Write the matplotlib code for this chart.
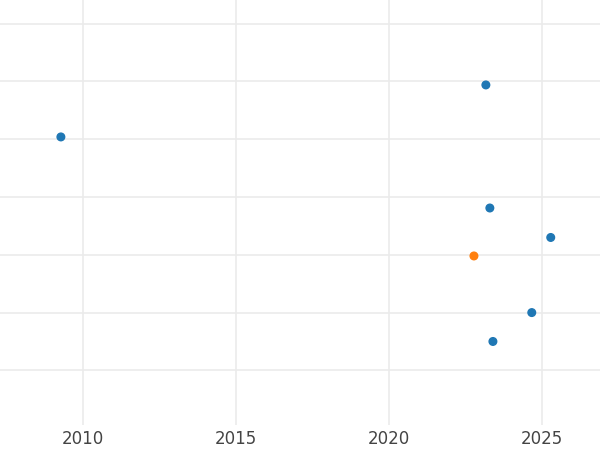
import matplotlib
matplotlib.use("Agg")
import matplotlib.pyplot as plt

xs = [2023.17, 2009.28, 2023.3, 2025.29, 2022.78, 2024.67, 2023.4]
ys = [4.94, 4.04, 2.81, 2.30, 1.98, 1.00, 0.50]
colors = ["#1f77b4"]*4 + ["#ff7f0e"] + ["#1f77b4"]*2

fig = plt.figure(figsize=(6, 4.5), dpi=100)
ax = fig.add_axes([0, 0.055, 1, 0.945])
ax.scatter(xs, ys, c=colors, s=30, zorder=3)
ax.set_xlim(2007.29, 2026.9)
ax.set_ylim(-0.95, 6.41)
ax.set_xticks([2010, 2015, 2020, 2025])
ax.set_yticks([0, 1, 2, 3, 4, 5, 6])
ax.set_yticklabels([])
ax.grid(True, color="#ebebeb", linewidth=1.2)
ax.set_axisbelow(True)
for s in ax.spines.values():
    s.set_visible(False)
ax.tick_params(length=0, labelsize=12, colors="#444444")
fig.savefig("out.png", dpi=100)
